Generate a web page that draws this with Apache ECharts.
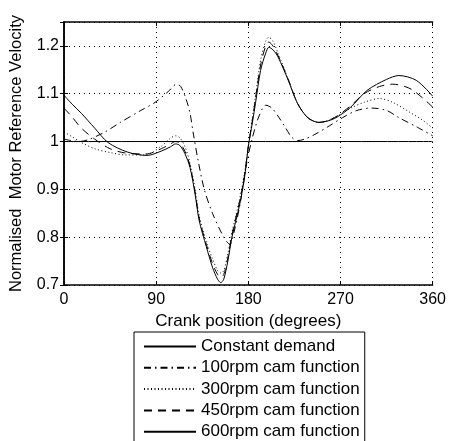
<!DOCTYPE html>
<html>
<head>
<meta charset="utf-8">
<script src="https://cdn.jsdelivr.net/npm/echarts@6/dist/echarts.min.js"></script>
<style>
  html, body { margin: 0; padding: 0; background: #fff; }
  #chart { width: 449px; height: 441px; }
</style>
</head>
<body>
<div id="chart"></div>
<script>
// crank position (deg) vs normalised motor reference velocity
const constantDemand = [[0, 1], [360, 1]]

const rpm100 = [
  [0, 1.005], [15, 1.0], [25, 1.005], [40, 1.02], [55, 1.04], [75, 1.065], [89, 1.082],
  [102, 1.105], [110, 1.12], [114, 1.115], [119, 1.09], [123, 1.06], [126, 1.02],
  [131, 0.96], [137, 0.9], [145, 0.85], [156, 0.8], [162, 0.785], [166, 0.81],
  [172, 0.87], [178, 0.95], [183, 1.0], [189, 1.045], [194, 1.07], [197, 1.076],
  [203, 1.07], [210, 1.05], [216, 1.03], [222, 1.01], [228, 1.002], [235, 1.005],
  [245, 1.015], [257, 1.03], [272, 1.05], [286, 1.065], [300, 1.07], [315, 1.065],
  [327, 1.05], [345, 1.03], [360, 1.012]
]

const rpm300 = [
  [0, 1.02], [8, 1.01], [17, 0.998], [30, 0.985], [45, 0.977], [60, 0.972], [80, 0.972],
  [95, 0.99], [104, 1.007], [109, 1.012], [113, 1.008], [118, 0.99], [123, 0.955],
  [128, 0.9], [132, 0.845], [139, 0.79], [145, 0.755], [150, 0.73], [153, 0.725],
  [156, 0.73], [160, 0.765], [164, 0.81], [171, 0.875], [176, 0.93], [180, 0.99],
  [184, 1.05], [187, 1.095], [192, 1.17], [197, 1.21], [200, 1.218], [204, 1.21],
  [209, 1.185], [219, 1.13], [228, 1.08], [238, 1.05], [249, 1.04], [264, 1.05],
  [280, 1.07], [293, 1.082], [308, 1.09], [321, 1.082], [337, 1.062], [350, 1.045],
  [360, 1.028]
]

const rpm450 = [
  [0, 1.07], [8, 1.051], [17, 1.028], [30, 1.005], [45, 0.985], [60, 0.976], [80, 0.974],
  [95, 0.985], [104, 0.995], [109, 1.0], [113, 0.997], [118, 0.98], [123, 0.95],
  [128, 0.895], [132, 0.84], [139, 0.785], [145, 0.745], [150, 0.722], [153, 0.716],
  [156, 0.722], [160, 0.757], [164, 0.805], [171, 0.87], [176, 0.925], [180, 0.99],
  [184, 1.045], [187, 1.09], [192, 1.16], [197, 1.2], [200, 1.208], [204, 1.2],
  [209, 1.18], [219, 1.13], [228, 1.08], [238, 1.05], [249, 1.04], [264, 1.05],
  [280, 1.075], [293, 1.1], [308, 1.115], [321, 1.12], [333, 1.115], [341, 1.107],
  [353, 1.086], [360, 1.072]
]

const rpm600 = [
  [0, 1.097], [8, 1.078], [17, 1.059], [30, 1.028], [43, 0.998], [62, 0.978], [81, 0.971],
  [95, 0.98], [104, 0.989], [109, 0.995], [113, 0.992], [118, 0.975], [123, 0.946],
  [128, 0.89], [132, 0.835], [139, 0.78], [145, 0.737], [150, 0.712], [153, 0.705],
  [156, 0.712], [160, 0.75], [164, 0.8], [171, 0.863], [176, 0.92], [180, 0.99],
  [184, 1.04], [187, 1.08], [192, 1.149], [197, 1.185], [200, 1.197], [204, 1.192],
  [209, 1.177], [219, 1.128], [228, 1.08], [238, 1.05], [249, 1.04], [264, 1.048],
  [280, 1.072], [296, 1.107], [315, 1.13], [327, 1.138], [344, 1.128], [360, 1.095]
]

const legendNames = ['Constant demand', '100rpm cam function', '300rpm cam function',
  '450rpm cam function', '600rpm cam function']
const xTicks = [0, 90, 180, 270, 360]

const font = 'Liberation Sans, Arial, sans-serif'
const black = '#000'

const line = (name, data, type) => ({
  name, data, type: 'line', xAxisIndex: 0, yAxisIndex: 0,
  showSymbol: false, symbol: 'none', smooth: 0.3,
  lineStyle: { color: black, width: 1, type },
  itemStyle: { color: black },
})

const chart = echarts.init(document.getElementById('chart'))
chart.setOption({
  backgroundColor: '#fff',
  animation: false,
  textStyle: { fontFamily: font, color: black },
  grid: { left: 62, right: 12, top: 22, bottom: 156 },
  legend: {
    orient: 'vertical', left: 134, top: 332, height: 200,
    data: legendNames,
    itemWidth: 52, itemHeight: 14, itemGap: 4.3,
    padding: [6, 5, 6, 9],
    borderColor: black, borderWidth: 1,
    itemStyle: { opacity: 0 },
    textStyle: { fontFamily: font, fontSize: 17, lineHeight: 17, color: black },
  },
  xAxis: [{
    type: 'value', min: xTicks[0], max: xTicks[xTicks.length - 1], interval: 90,
    name: 'Crank position (degrees)', nameLocation: 'middle', nameGap: 27,
    nameTextStyle: { fontSize: 17, color: black },
    axisLine: { lineStyle: { color: black, width: 1.5 } },
    axisTick: { inside: true, length: 4, lineStyle: { color: black } },
    axisLabel: { color: black, fontSize: 16, margin: 7 },
    splitLine: { show: true, lineStyle: { color: black, type: [1, 4], width: 1 } },
  }, {
    type: 'value', position: 'top', min: 0, max: 360, interval: 90,
    axisLine: { lineStyle: { color: black, width: 1.5 } },
    axisTick: { inside: true, length: 4, lineStyle: { color: black } },
    axisLabel: { show: false }, splitLine: { show: false },
  }],
  yAxis: [{
    type: 'value', min: 0.7, max: 1.25, interval: 0.1,
    name: 'Normalised  Motor Reference Velocity', nameLocation: 'middle', nameGap: 39,
    nameTextStyle: { fontSize: 16.5, color: black },
    axisLine: { show: true, lineStyle: { color: black, width: 1.5 } },
    axisTick: { show: true, inside: true, length: 4, lineStyle: { color: black } },
    axisLabel: { color: black, fontSize: 16, margin: 5, showMaxLabel: false,
      formatter: v => String(+v.toFixed(1)) },
    splitLine: { show: true, lineStyle: { color: black, type: [1, 4], width: 1 } },
  }, {
    type: 'value', position: 'right', min: 0.7, max: 1.25, interval: 0.1,
    axisLine: { show: true, lineStyle: { color: black, width: 1.5 } },
    axisTick: { show: true, inside: true, length: 4, lineStyle: { color: black } },
    axisLabel: { show: false }, splitLine: { show: false },
  }],
  series: [
    line(legendNames[0], constantDemand, 'solid'),
    line(legendNames[1], rpm100, [7, 4, 1.5, 4]),
    line(legendNames[2], rpm300, [1, 2.5]),
    line(legendNames[3], rpm450, [8, 6]),
    line(legendNames[4], rpm600, 'solid'),
  ],
})
</script>
</body>
</html>
